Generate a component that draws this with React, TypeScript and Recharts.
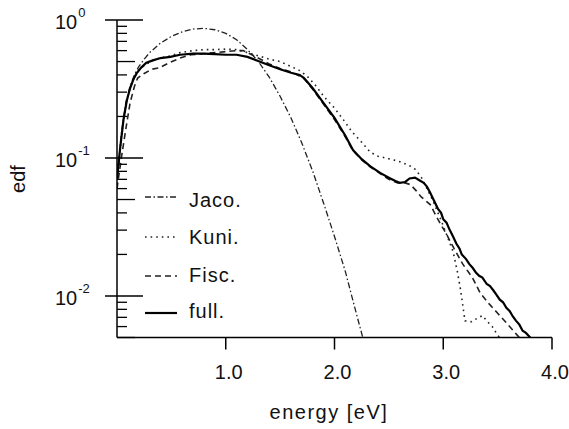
import { LineChart, Line, XAxis, YAxis, Legend, Label } from "recharts";

// energy [eV] / edf
const jacoE = [0, 0.04, 0.08, 0.12, 0.16, 0.2, 0.25, 0.3, 0.4, 0.5, 0.6, 0.7, 0.8, 0.9, 1.0, 1.1, 1.2, 1.3, 1.4, 1.5, 1.6, 1.7, 1.8, 1.9, 2.0, 2.1, 2.2, 2.26];
const jacoF = [0.07, 0.15, 0.25, 0.33, 0.4, 0.46, 0.52, 0.58, 0.68, 0.76, 0.82, 0.86, 0.87, 0.85, 0.8, 0.72, 0.61, 0.5, 0.385, 0.28, 0.195, 0.128, 0.08, 0.047, 0.027, 0.015, 0.0075, 0.005];

const kuniE = [0, 0.03, 0.06, 0.09, 0.12, 0.15, 0.18, 0.22, 0.27, 0.33, 0.4, 0.49, 0.58, 0.7, 0.8, 0.9, 1.0, 1.1, 1.2, 1.3, 1.4, 1.5, 1.6, 1.68, 1.75, 1.82, 1.9, 2.0, 2.08, 2.16, 2.25, 2.33, 2.4, 2.47, 2.54, 2.62, 2.7, 2.75, 2.8, 2.85, 2.9, 2.97, 3.03, 3.09, 3.13, 3.16, 3.18, 3.2, 3.26, 3.3, 3.36, 3.4, 3.45, 3.5, 3.52];
const kuniF = [0.07, 0.12, 0.19, 0.26, 0.32, 0.37, 0.41, 0.45, 0.48, 0.51, 0.53, 0.55, 0.58, 0.6, 0.61, 0.61, 0.615, 0.61, 0.58, 0.55, 0.52, 0.5, 0.46, 0.43, 0.39, 0.34, 0.28, 0.23, 0.19, 0.155, 0.13, 0.11, 0.103, 0.1, 0.097, 0.093, 0.087, 0.082, 0.072, 0.06, 0.05, 0.037, 0.028, 0.021, 0.015, 0.011, 0.0085, 0.0066, 0.0065, 0.0068, 0.0072, 0.0066, 0.006, 0.0052, 0.005];

const fiscE = [0, 0.04, 0.08, 0.12, 0.16, 0.19, 0.25, 0.32, 0.39, 0.48, 0.58, 0.68, 0.8, 0.9, 1.0, 1.1, 1.16, 1.24, 1.32, 1.4, 1.5, 1.6, 1.66, 1.72, 1.8, 1.9, 2.0, 2.1, 2.17, 2.25, 2.33, 2.42, 2.5, 2.58, 2.65, 2.7, 2.75, 2.8, 2.88, 2.95, 3.03, 3.1, 3.18, 3.27, 3.34, 3.42, 3.5, 3.58, 3.68, 3.7];
const fiscF = [0.06, 0.1, 0.16, 0.25, 0.33, 0.38, 0.41, 0.44, 0.45, 0.49, 0.53, 0.56, 0.57, 0.58, 0.59, 0.6, 0.6, 0.56, 0.52, 0.48, 0.445, 0.42, 0.4, 0.375, 0.315, 0.245, 0.19, 0.142, 0.113, 0.097, 0.086, 0.077, 0.07, 0.066, 0.066, 0.064, 0.058, 0.052, 0.046, 0.036, 0.028, 0.022, 0.017, 0.0135, 0.0105, 0.0088, 0.0075, 0.0064, 0.0052, 0.005];

const fullE = [0, 0.03, 0.06, 0.09, 0.12, 0.15, 0.18, 0.22, 0.27, 0.33, 0.4, 0.49, 0.58, 0.7, 0.8, 0.9, 1.0, 1.1, 1.2, 1.28, 1.4, 1.5, 1.6, 1.68, 1.72, 1.8, 1.9, 2.0, 2.1, 2.17, 2.25, 2.33, 2.42, 2.5, 2.56, 2.6, 2.65, 2.69, 2.74, 2.78, 2.82, 2.85, 2.88, 2.91, 2.95, 2.98, 3.0, 3.03, 3.06, 3.09, 3.12, 3.15, 3.17, 3.21, 3.24, 3.27, 3.3, 3.33, 3.36, 3.4, 3.43, 3.46, 3.49, 3.52, 3.55, 3.58, 3.61, 3.64, 3.67, 3.7, 3.73, 3.76, 3.8];
const fullF = [0.07, 0.12, 0.19, 0.26, 0.32, 0.37, 0.41, 0.45, 0.49, 0.51, 0.53, 0.54, 0.56, 0.57, 0.57, 0.565, 0.56, 0.56, 0.54, 0.51, 0.47, 0.44, 0.415, 0.4, 0.38, 0.32, 0.25, 0.195, 0.145, 0.114, 0.098, 0.087, 0.078, 0.072, 0.068, 0.066, 0.067, 0.071, 0.072, 0.069, 0.066, 0.062, 0.056, 0.05, 0.043, 0.04, 0.036, 0.034, 0.03, 0.027, 0.024, 0.022, 0.02, 0.0185, 0.017, 0.016, 0.0148, 0.014, 0.0136, 0.0122, 0.0118, 0.011, 0.0102, 0.0094, 0.009, 0.0082, 0.0078, 0.0071, 0.0066, 0.0062, 0.0056, 0.0054, 0.005];

const xTicks = [1, 2, 3, 4];
const yTicks = [
  0.005, 0.006, 0.007, 0.008, 0.009, 0.01,
  0.02, 0.03, 0.04, 0.05, 0.06, 0.07, 0.08, 0.09, 0.1,
  0.2, 0.3, 0.4, 0.5, 0.6, 0.7, 0.8, 0.9, 1,
];

const toPoints = (e: number[], f: number[]) => e.map((x, i) => ({ e: x, f: f[i] }));

const SERIES = [
  { key: "jaco", name: "Jaco.", data: toPoints(jacoE, jacoF), dash: "6 2.5 1.5 2.5", width: 1.3, color: "#222" },
  { key: "kuni", name: "Kuni.", data: toPoints(kuniE, kuniF), dash: "1.6 4", width: 1.6, color: "#222" },
  { key: "fisc", name: "Fisc.", data: toPoints(fiscE, fiscF), dash: "6 4", width: 1.6, color: "#222" },
  { key: "full", name: "full.", data: toPoints(fullE, fullF), dash: undefined, width: 2.2, color: "#000" },
];

const FONT = "'Liberation Sans', Arial, Helvetica, sans-serif";
const LEGEND_LINE_Y = [197, 237, 276, 313];
const LEGEND_TEXT_Y = [207, 244, 282, 318];

function YTick({ x, y, payload }: any) {
  const v = payload.value as number;
  const exp = Math.log10(v);
  const major = Math.abs(exp - Math.round(exp)) < 1e-6;
  if (major) {
    return (
      <g>
        <line x1={x - 12} x2={x + 26} y1={y} y2={y} stroke="#000" strokeWidth={1.5} />
        <text x={x - 62} y={y + 9} fontSize={20} fontFamily={FONT} fill="#111">
          10
          <tspan dx={1} dy={-12} fontSize={13}>{Math.round(exp)}</tspan>
        </text>
      </g>
    );
  }
  const mant = Math.round(v / Math.pow(10, Math.floor(exp + 1e-9)));
  return <line x1={x} x2={x + (mant === 5 ? 18 : 10)} y1={y} y2={y} stroke="#000" strokeWidth={1.3} />;
}

function LegendBox() {
  return (
    <svg width={569} height={429} style={{ position: "absolute", left: 0, top: 0 }}>
      {SERIES.map((s, i) => (
        <g key={s.key}>
          <line x1={145} x2={177} y1={LEGEND_LINE_Y[i]} y2={LEGEND_LINE_Y[i]} stroke={s.color} strokeWidth={s.width} strokeDasharray={s.dash} />
          <text x={189} y={LEGEND_TEXT_Y[i]} fontSize={20} fontFamily={FONT} fill="#111" letterSpacing={1}>
            {s.name}
          </text>
        </g>
      ))}
    </svg>
  );
}

export default function App() {
  return (
    <div style={{ position: "absolute", left: 0, top: 0, width: 569, height: 429, background: "#fff" }}>
      <LineChart width={569} height={429} margin={{ top: 20, right: 17, bottom: 0, left: 0 }}>
        <XAxis
          dataKey="e"
          type="number"
          domain={[0, 4]}
          ticks={xTicks}
          allowDataOverflow
          height={91.5}
          tickSize={12}
          tickMargin={15}
          tickFormatter={(v: number) => v.toFixed(1)}
          tick={{ fontSize: 20, fill: "#111", fontFamily: FONT, dx: 3 }}
          tickLine={{ stroke: "#000", strokeWidth: 1.5 }}
          axisLine={{ stroke: "#000", strokeWidth: 1.5 }}
        >
          <Label
            content={() => (
              <text x={329} y={419} textAnchor="middle" fontSize={20} fontFamily={FONT} fill="#111" letterSpacing={1.5}>
                energy [eV]
              </text>
            )}
          />
        </XAxis>
        <YAxis
          type="number"
          scale="log"
          domain={[0.005, 1]}
          ticks={yTicks}
          allowDataOverflow
          width={117}
          tickSize={0}
          tickMargin={0}
          tickLine={false}
          tick={<YTick />}
          interval={0}
          axisLine={{ stroke: "#000", strokeWidth: 1.5 }}
        >
          <Label
            content={() => (
              <text transform="translate(25,179) rotate(-90)" textAnchor="middle" fontSize={20} fontFamily={FONT} fill="#111">
                edf
              </text>
            )}
          />
        </YAxis>
        <Legend
          layout="vertical"
          align="center"
          verticalAlign="middle"
          wrapperStyle={{ left: 0, top: 0, width: 569, height: 429, pointerEvents: "none" }}
          content={() => <LegendBox />}
        />
        {SERIES.map((s) => (
          <Line
            key={s.key}
            data={s.data}
            dataKey="f"
            name={s.name}
            type="linear"
            stroke={s.color}
            strokeWidth={s.width}
            strokeDasharray={s.dash}
            dot={false}
            activeDot={false}
            isAnimationActive={false}
          />
        ))}
      </LineChart>
    </div>
  );
}
